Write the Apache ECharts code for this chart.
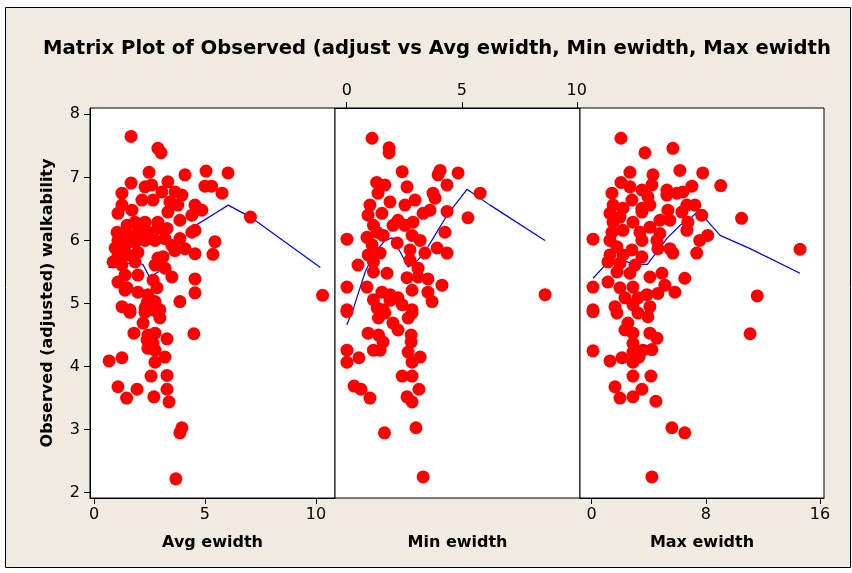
<!DOCTYPE html>
<html>
<head>
<meta charset="utf-8">
<script src="https://cdn.jsdelivr.net/npm/echarts@6/dist/echarts.min.js"></script>
<style>
html,body{margin:0;padding:0;background:#ffffff;}
#chart{width:852px;height:573px;}
</style>
</head>
<body>
<div id="chart"></div>
<script>
// ---- data ----
const yTicks = [2, 3, 4, 5, 6, 7, 8];
const avgTicks = [0, 5, 10];
const minTicks = [0, 5, 10];
const maxTicks = [0, 8, 16];

const avgX = [1.67,2.88,3.02,2.48,1.67,1.26,2.3,2.6,3.33,4.1,5.05,6.04,5.0,5.3,5.77,3.06,3.65,3.96,1.26,1.08,1.71,2.16,2.66,3.42,3.78,4.55,4.86,4.41,3.87,3.33,2.88,2.3,1.85,1.49,1.04,1.08,1.53,1.98,2.43,2.88,3.29,3.2,2.75,2.3,1.85,1.4,0.95,4.55,4.41,3.87,3.51,3.65,4.1,4.55,2.88,3.11,3.2,2.75,1.98,1.53,1.08,0.86,1.26,1.85,1.4,1.98,3.51,2.66,1.08,1.49,1.98,2.43,2.84,3.87,1.26,1.62,2.3,2.66,2.97,7.05,10.3,5.45,5.36,4.55,4.55,4.5,3.87,3.96,3.69,0.68,1.26,1.08,1.47,1.94,2.7,3.29,3.29,3.38,2.57,1.8,3.29,1.4,2.39,2.75,1.62,2.3,2.88,2.97,2.21,2.43,2.75,2.39,2.66,2.43,2.75,3.2,2.75];
const avgY = [7.65,7.46,7.39,7.08,6.91,6.75,6.85,6.88,6.93,7.04,7.1,7.07,6.86,6.86,6.75,6.77,6.77,6.72,6.56,6.43,6.48,6.64,6.64,6.61,6.56,6.56,6.48,6.40,6.32,6.45,6.29,6.29,6.29,6.24,6.13,6.0,6.08,6.13,6.13,6.19,6.19,6.03,6.0,6.0,5.97,5.92,5.88,6.16,6.13,6.03,5.92,5.84,5.87,5.79,5.72,5.74,5.56,5.61,5.81,5.77,5.77,5.66,5.61,5.66,5.45,5.45,5.42,5.37,5.34,5.25,5.18,5.14,5.25,5.03,4.95,4.9,4.93,4.9,4.9,6.37,5.13,5.98,5.78,5.39,5.17,4.52,2.95,3.03,2.22,4.09,4.14,3.68,3.5,3.64,3.52,3.86,3.64,3.44,3.85,4.53,4.44,5.21,5.01,5.03,4.86,4.86,4.86,4.77,4.69,4.5,4.53,4.42,4.37,4.29,4.26,4.15,4.07];

const minX = [1.1,1.84,1.84,2.41,4.06,3.97,4.84,4.36,5.8,5.27,1.3,1.66,2.62,1.36,3.75,3.84,2.97,1.01,1.88,2.53,3.62,4.36,0.93,1.53,2.23,3.32,2.88,1.16,2.01,2.53,4.27,0.01,0.88,1.32,1.58,2.84,3.19,1.1,2.19,3.93,4.36,3.4,2.75,0.93,1.45,0.49,1.16,2.75,3.1,1.75,1.16,2.62,3.1,3.53,4.14,0.01,0.88,2.84,1.53,1.88,2.23,3.53,3.71,1.16,1.32,2.41,0.01,1.58,2.84,1.88,0.01,1.38,1.66,2.84,2.67,2.01,2.23,0.93,1.38,1.58,1.16,1.45,2.8,2.8,2.67,2.84,3.19,0.01,0.01,0.53,2.41,2.84,0.32,0.62,1.01,2.62,2.84,3.14,1.64,3.01,3.32,8.62];
const minY = [7.62,7.47,7.39,7.09,7.11,7.04,7.07,6.88,6.75,6.36,6.92,6.88,6.85,6.75,6.75,6.67,6.64,6.56,6.61,6.56,6.48,6.46,6.4,6.43,6.32,6.43,6.29,6.24,6.24,6.24,6.13,6.02,6.05,6.13,6.08,6.08,6.0,5.93,5.96,5.88,5.8,5.8,5.85,5.77,5.8,5.61,5.66,5.69,5.56,5.48,5.5,5.41,5.42,5.39,5.29,5.26,5.26,5.21,5.18,5.14,5.09,5.18,5.03,5.06,4.93,4.98,4.9,4.9,4.9,5.05,4.87,4.77,4.85,4.85,4.77,4.69,4.58,4.53,4.5,4.39,4.26,4.26,4.5,4.39,4.23,4.07,4.15,4.26,4.07,4.14,3.85,3.85,3.69,3.64,3.5,3.52,3.44,3.64,2.95,3.03,2.25,5.14];

const maxX = [2.05,3.73,5.69,2.68,4.29,6.18,7.78,9.04,2.05,2.68,4.22,1.42,3.52,5.27,5.97,6.39,7.02,2.82,3.94,5.27,1.5,2.19,3.52,4.08,6.67,7.23,1.28,1.98,3.52,5.34,6.32,7.71,1.5,2.89,4.78,5.48,6.74,4.08,3.38,1.42,2.19,4.78,6.67,8.13,0.09,1.28,3.52,4.57,7.57,1.77,2.82,4.64,5.48,1.28,2.19,3.52,5.69,7.36,1.14,1.98,3.03,1.77,2.68,4.92,4.08,1.14,6.52,0.09,1.98,2.89,5.13,5.83,2.33,3.24,3.87,4.64,1.63,2.89,4.08,0.09,0.09,1.77,3.24,3.94,2.54,2.33,2.89,4.08,4.57,2.89,3.59,4.22,2.89,0.09,1.28,2.12,2.89,3.31,2.89,4.15,1.63,3.52,1.98,2.89,4.5,5.62,6.52,4.22,10.5,14.6,11.6,11.1];
const maxY = [7.62,7.39,7.46,7.08,7.04,7.11,7.07,6.87,6.92,6.85,6.88,6.75,6.8,6.8,6.75,6.77,6.86,6.64,6.69,6.72,6.56,6.51,6.51,6.56,6.56,6.56,6.43,6.37,6.45,6.48,6.45,6.4,6.29,6.29,6.32,6.32,6.29,6.21,6.13,6.13,6.16,6.11,6.16,6.08,6.02,6.0,6.0,6.0,6.0,5.9,5.85,5.87,5.87,5.77,5.77,5.74,5.8,5.8,5.66,5.64,5.61,5.5,5.48,5.48,5.42,5.34,5.4,5.26,5.25,5.26,5.29,5.18,5.09,5.09,5.14,5.16,4.95,4.98,4.95,4.9,4.87,4.85,4.85,4.79,4.69,4.58,4.53,4.53,4.45,4.37,4.26,4.27,4.23,4.25,4.09,4.14,4.07,4.15,3.85,3.85,3.68,3.64,3.5,3.52,3.45,3.03,2.95,2.25,6.35,5.86,5.12,4.52];

// smoother (lowess) lines
const avgFitX = [0.65,1.2,1.8,2.2,2.5,2.9,3.4,3.9,4.5,5.0,5.5,6.05,7.05,10.2];
const avgFitY = [5.57,5.62,5.65,5.62,5.42,5.5,5.8,5.97,6.22,6.33,6.44,6.56,6.37,5.57];
const minFitX = [0.0,0.3,0.8,1.2,1.67,1.97,2.32,2.67,3.1,3.5,3.93,4.36,5.23,6.23,8.62];
const minFitY = [4.66,4.93,5.5,5.8,6.0,6.04,5.82,5.58,5.69,5.88,6.14,6.4,6.81,6.56,6.0];
const maxFitX = [0.09,1.0,2.0,3.0,3.9,4.5,5.3,6.2,6.9,7.4,7.95,9.0,11.1,14.6];
const maxFitY = [5.4,5.62,5.7,5.62,5.62,5.8,6.04,6.24,6.35,6.45,6.35,6.08,5.87,5.48];

// ---- layout ----
const zip = (a, b) => a.map((v, i) => [v, b[i]]);
const chart = echarts.init(document.getElementById('chart'), null, {renderer: 'canvas'});
const TXT = '#000000';
const FONT = 'DejaVu Sans';
const gridBase = {top: 108, height: 390, show: true, backgroundColor: '#ffffff', borderColor: '#000000', borderWidth: 1};

function xAxisDef(idx, min, max, ticks, pos, name) {
  return {
    type: 'value', gridIndex: idx, min: min, max: max, position: pos,
    name: name, nameLocation: 'middle', nameGap: 37,
    nameTextStyle: {color: TXT, fontFamily: FONT, fontWeight: 'bold', fontSize: 16},
    axisLine: {show: true, onZero: false, lineStyle: {color: '#000', width: 1}},
    axisTick: {show: true, length: 6, lineStyle: {color: '#000'}, customValues: ticks},
    axisLabel: {show: true, color: TXT, fontFamily: FONT, fontSize: 16, margin: 9, customValues: ticks},
    splitLine: {show: false}
  };
}
function yAxisDef(idx, show) {
  return {
    type: 'value', gridIndex: idx, min: 1.916, max: 8.1, show: show,
    name: show ? 'Observed (adjusted) walkability' : '', nameLocation: 'middle', nameGap: 34,
    nameTextStyle: {color: TXT, fontFamily: FONT, fontWeight: 'bold', fontSize: 16},
    axisLine: {show: true, onZero: false, lineStyle: {color: '#000', width: 1}},
    axisTick: {show: true, length: 6, lineStyle: {color: '#000'}, customValues: yTicks},
    axisLabel: {show: true, color: TXT, fontFamily: FONT, fontSize: 16, margin: 10, customValues: yTicks},
    splitLine: {show: false}
  };
}
function scatter(i, xs, ys) {
  return {type: 'scatter', xAxisIndex: i, yAxisIndex: i, data: zip(xs, ys), symbol: 'circle', symbolSize: 13,
    itemStyle: {color: '#FF0000', opacity: 1}, z: 3, silent: true};
}
function fit(i, xs, ys) {
  return {type: 'line', xAxisIndex: i, yAxisIndex: i, data: zip(xs, ys), showSymbol: false, symbol: 'none',
    lineStyle: {color: '#0000FF', width: 1.2}, z: 2, silent: true};
}

chart.setOption({
  animation: false,
  backgroundColor: '#ffffff',
  graphic: [
    {type: 'rect', z: -10, shape: {x: 5.5, y: 7.5, width: 845, height: 560},
     style: {fill: '#EFEBE1', stroke: '#000000', lineWidth: 1}},
    {type: 'text', x: 437, y: 49, style: {text: 'Matrix Plot of Observed (adjust vs Avg ewidth, Min ewidth, Max ewidth',
      font: 'bold 19.6px "DejaVu Sans"', fill: '#000', textAlign: 'center', textVerticalAlign: 'middle'}},
    {type: 'text', x: 457.5, y: 543, style: {text: 'Min ewidth', font: 'bold 16px "DejaVu Sans"', fill: '#000',
      textAlign: 'center', textVerticalAlign: 'middle'}}
  ],
  grid: [
    Object.assign({left: 90, width: 245}, gridBase),
    Object.assign({left: 335, width: 245}, gridBase),
    Object.assign({left: 580, width: 244}, gridBase)
  ],
  xAxis: [
    xAxisDef(0, -0.18, 10.86, avgTicks, 'bottom', 'Avg ewidth'),
    xAxisDef(1, -0.51, 10.14, minTicks, 'top', ''),
    xAxisDef(2, -0.82, 16.28, maxTicks, 'bottom', 'Max ewidth')
  ],
  yAxis: [yAxisDef(0, true), yAxisDef(1, false), yAxisDef(2, false)],
  series: [
    fit(0, avgFitX, avgFitY), scatter(0, avgX, avgY),
    fit(1, minFitX, minFitY), scatter(1, minX, minY),
    fit(2, maxFitX, maxFitY), scatter(2, maxX, maxY)
  ]
});
</script>
</body>
</html>
